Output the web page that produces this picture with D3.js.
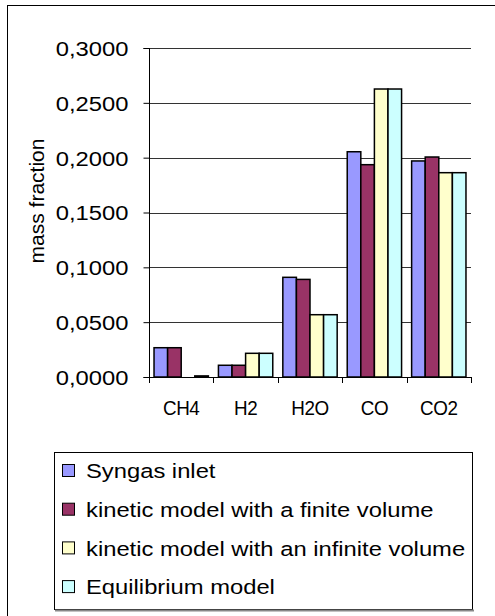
<!DOCTYPE html>
<html>
<head>
<meta charset="utf-8">
<script src="https://cdn.jsdelivr.net/npm/d3@7"></script>
<style>
  body { margin: 0; background: #fff; }
  text { font-family: "Liberation Sans", Arial, sans-serif; fill: #000; }
</style>
</head>
<body>
<script>
// chart data
var categories = ["CH4", "H2", "H2O", "CO", "CO2"];
var seriesNames = ["Syngas inlet", "kinetic model with a finite volume",
                   "kinetic model with an infinite volume", "Equilibrium model"];
var syngasInlet = [0.0267, 0.0107, 0.0909, 0.2054, 0.1970];
var kineticFinite = [0.0267, 0.0107, 0.0890, 0.1936, 0.2006];
var kineticInfinite = [0.0000, 0.0216, 0.0568, 0.2626, 0.1863];
var equilibrium = [0.0010, 0.0216, 0.0568, 0.2626, 0.1863];
var yTicks = [0, 0.05, 0.1, 0.15, 0.2, 0.25, 0.3];
var colors = ["#9999ff", "#993366", "#ffffcc", "#ccffff"];

var allSeries = [syngasInlet, kineticFinite, kineticInfinite, equilibrium];

var w = 495, h = 616;
var svg = d3.select("body").append("svg")
    .attr("width", w)
    .attr("height", h);

// outer chart border (right and bottom are cut off in the picture)
svg.append("rect")
    .attr("x", 7.5).attr("y", 5.5)
    .attr("width", 520).attr("height", 640)
    .attr("fill", "none")
    .attr("stroke", "#000");

// plot area
var x0 = 149, x1 = 471, yTop = 48, yBot = 377;

var x = d3.scaleBand()
    .domain(categories)
    .range([x0, x1])
    .paddingInner(0)
    .paddingOuter(0);

var y = d3.scaleLinear()
    .domain([0, 0.3])
    .range([yBot, yTop]);

var xs = d3.scaleBand()
    .domain(d3.range(seriesNames.length))
    .range([0, x.bandwidth()])
    .paddingOuter(0.37)
    .paddingInner(0);

// gridlines
svg.append("g").selectAll("line")
    .data(yTicks.slice(1))
    .enter().append("line")
    .attr("x1", x0).attr("x2", x1)
    .attr("y1", function (d) { return Math.round(y(d)) + 0.5; })
    .attr("y2", function (d) { return Math.round(y(d)) + 0.5; })
    .attr("stroke", "#333")
    .attr("stroke-width", 1);

// bars
var groups = svg.append("g").selectAll("g")
    .data(categories)
    .enter().append("g")
    .attr("transform", function (d) { return "translate(" + x(d) + ",0)"; });

groups.selectAll("rect")
    .data(function (d, i) {
        return allSeries.map(function (s, k) { return { k: k, v: s[i] }; });
    })
    .enter().append("rect")
    .attr("x", function (d) { return xs(d.k); })
    .attr("width", xs.bandwidth())
    .attr("y", function (d) { return y(d.v); })
    .attr("height", function (d) { return y(0) - y(d.v); })
    .attr("fill", function (d) { return colors[d.k]; })
    .attr("stroke", "#000")
    .attr("stroke-width", function (d) { return d.v > 0 ? 1.5 : 0; });

// y axis
var yAxis = d3.axisLeft(y)
    .tickValues(yTicks)
    .tickSize(6)
    .tickPadding(0)
    .tickFormat(function (d) { return d3.format(".4f")(d).replace(".", ","); });

var gy = svg.append("g")
    .attr("transform", "translate(" + (x0 + 0.5) + ",0)")
    .call(yAxis);
gy.select(".domain").attr("stroke", "#000").attr("d", "M-6," + (yTop + 0.5) + "H0V" + (yBot + 0.5) + "H-6");
gy.selectAll(".tick line").attr("stroke", "#000");
// Excel text in the picture is stretched a little sideways
gy.selectAll(".tick text")
    .attr("x", null)
    .attr("transform", "translate(-21,0) scale(1.16,1)")
    .style("font-family", "Liberation Sans")
    .style("font-size", "20.5px")
    .attr("dy", "0.36em");

// x axis
var gx = svg.append("g")
    .attr("transform", "translate(0," + (yBot + 0.5) + ")")
    .call(d3.axisBottom(x).tickSize(0).tickPadding(0));
gx.select(".domain").attr("stroke", "#000").attr("d", "M" + x0 + ",0H" + x1);
gx.selectAll(".tick text")
    .attr("y", null).attr("dy", null)
    .attr("transform", "translate(0,37) scale(0.92,1)")
    .style("font-family", "Liberation Sans")
    .style("font-size", "20.5px")
    .style("letter-spacing", "-0.5px");

// tick marks between categories
svg.append("g").selectAll("line")
    .data(categories.concat(["end"]))
    .enter().append("line")
    .attr("x1", function (d, i) { return Math.round(x0 + i * x.bandwidth()) + 0.5; })
    .attr("x2", function (d, i) { return Math.round(x0 + i * x.bandwidth()) + 0.5; })
    .attr("y1", yBot)
    .attr("y2", yBot + 6)
    .attr("stroke", "#000");

// axis title
svg.append("text")
    .attr("transform", "translate(44,201) rotate(-90)")
    .attr("text-anchor", "middle")
    .style("font-size", "21px")
    .text("mass fraction");

// legend
var legend = svg.append("g");
legend.append("rect")
    .attr("x", 54.5).attr("y", 452.5)
    .attr("width", 418).attr("height", 157)
    .attr("fill", "#fff")
    .attr("stroke", "#000");
legend.append("line")
    .attr("x1", 55).attr("x2", 474)
    .attr("y1", 610.5).attr("y2", 610.5)
    .attr("stroke", "#888").attr("stroke-width", 2);

var rows = legend.selectAll("g.row")
    .data(seriesNames)
    .enter().append("g")
    .attr("class", "row")
    .attr("transform", function (d, i) { return "translate(0," + (471 + i * 38.7) + ")"; });

rows.append("rect")
    .attr("x", 62.5).attr("y", -6.5)
    .attr("width", 12).attr("height", 12)
    .attr("fill", function (d, i) { return colors[i]; })
    .attr("stroke", "#000");

rows.append("text")
    .attr("transform", "translate(86,0) scale(1.16,1)")
    .attr("dy", "0.36em")
    .style("font-size", "20.5px")
    .text(function (d) { return d; });
</script>
</body>
</html>
